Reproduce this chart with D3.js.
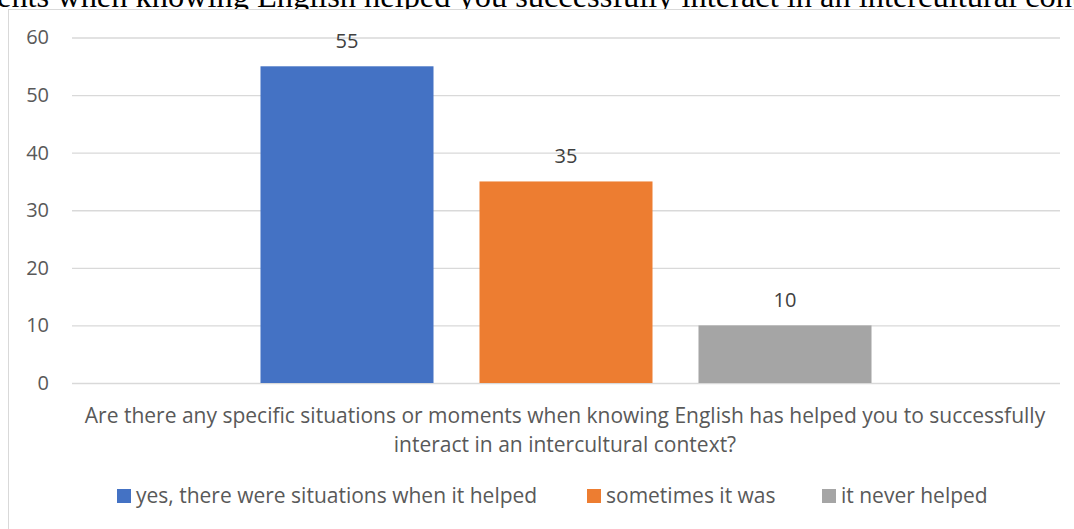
<!DOCTYPE html>
<html><head><meta charset="utf-8">
<script src="https://cdn.jsdelivr.net/npm/d3@7"></script>
<style>body{margin:0;background:#fff;overflow:hidden}svg{display:block}</style>
</head><body>
<svg id="chart" width="1074" height="529"></svg>
<script>
const seriesNames = ["yes, there were situations when it helped", "sometimes it was", "it never helped"];
const seriesValues = [55, 35, 10];
const seriesColors = ["#4472C4", "#ED7D31", "#A5A5A5"];
const category = "Are there any specific situations or moments when knowing English has helped you to successfully interact in an intercultural context?";
const categoryLines = ["Are there any specific situations or moments when knowing English has helped you to successfully", "interact in an intercultural context?"];
const yTicks = [0, 10, 20, 30, 40, 50, 60];
const titleText = "ents when knowing English helped you successfully interact in an intercultural context";

const svg = d3.select("#chart");
const font = "'Open Sans', sans-serif";
const textColor = "#595959";

// title (clipped at top of picture)
svg.append("text").attr("x", -3).attr("y", 7)
  .attr("font-family", "'Liberation Serif', 'Times New Roman', serif")
  .attr("font-size", 32.4).attr("fill", "#000").text(titleText);

// chart frame
svg.append("rect").attr("x", 8.5).attr("y", 9.5).attr("width", 1100).attr("height", 600)
  .attr("fill", "#fff").attr("stroke", "#D9D9D9").attr("stroke-width", 1);

const plot = {left: 72, right: 1060, top: 37.5, bottom: 383};
const y = d3.scaleLinear().domain([0, 60]).range([plot.bottom, plot.top]);
const x0 = d3.scaleBand().domain([category]).range([plot.left, plot.right]).paddingInner(0).paddingOuter(0.3085);
const x1 = d3.scaleBand().domain(seriesNames).range([0, x0.bandwidth()]).paddingInner(0.21).paddingOuter(0);

// gridlines + tick labels
const yAxis = d3.axisLeft(y).tickValues(yTicks).tickSize(-(plot.right - plot.left)).tickPadding(23);
const gAxis = svg.append("g").attr("transform", `translate(${plot.left},0)`).call(yAxis);
gAxis.select(".domain").remove();
gAxis.selectAll(".tick line").attr("stroke", "#D9D9D9").attr("stroke-width", 1.3);
gAxis.selectAll(".tick text").attr("font-family", font).attr("font-size", 20).attr("fill", textColor);

// bars
const data = seriesNames.map((n, i) => ({name: n, value: seriesValues[i], color: seriesColors[i]}));
const g = svg.append("g").attr("transform", `translate(${x0(category)},0)`);
g.selectAll("rect").data(data).join("rect")
  .attr("x", d => x1(d.name)).attr("width", x1.bandwidth())
  .attr("y", d => y(d.value)).attr("height", d => y(0) - y(d.value))
  .attr("fill", d => d.color);
g.selectAll("text.lbl").data(data).join("text").attr("class", "lbl")
  .attr("x", d => x1(d.name) + x1.bandwidth() / 2).attr("y", d => y(d.value) - 18)
  .attr("text-anchor", "middle").attr("font-family", font).attr("font-size", 20)
  .attr("fill", "#404040").text(d => d.value);

// category axis label
const cx = (plot.left + plot.right) / 2 - 1;
svg.append("text").attr("text-anchor", "middle").attr("font-family", font).attr("font-size", 21)
  .attr("fill", textColor)
  .selectAll("tspan").data(categoryLines).join("tspan")
  .attr("x", cx).attr("y", (d, i) => 423 + i * 29).text(d => d);

// legend
const legendX = [117, 587, 822];
const lg = svg.append("g");
data.forEach((d, i) => {
  lg.append("rect").attr("x", legendX[i]).attr("y", 489).attr("width", 14).attr("height", 14).attr("fill", d.color);
  lg.append("text").attr("x", legendX[i] + 19).attr("y", 503).attr("font-family", font).attr("font-size", 21)
    .attr("fill", textColor).text(d.name);
});
</script>
</body></html>
